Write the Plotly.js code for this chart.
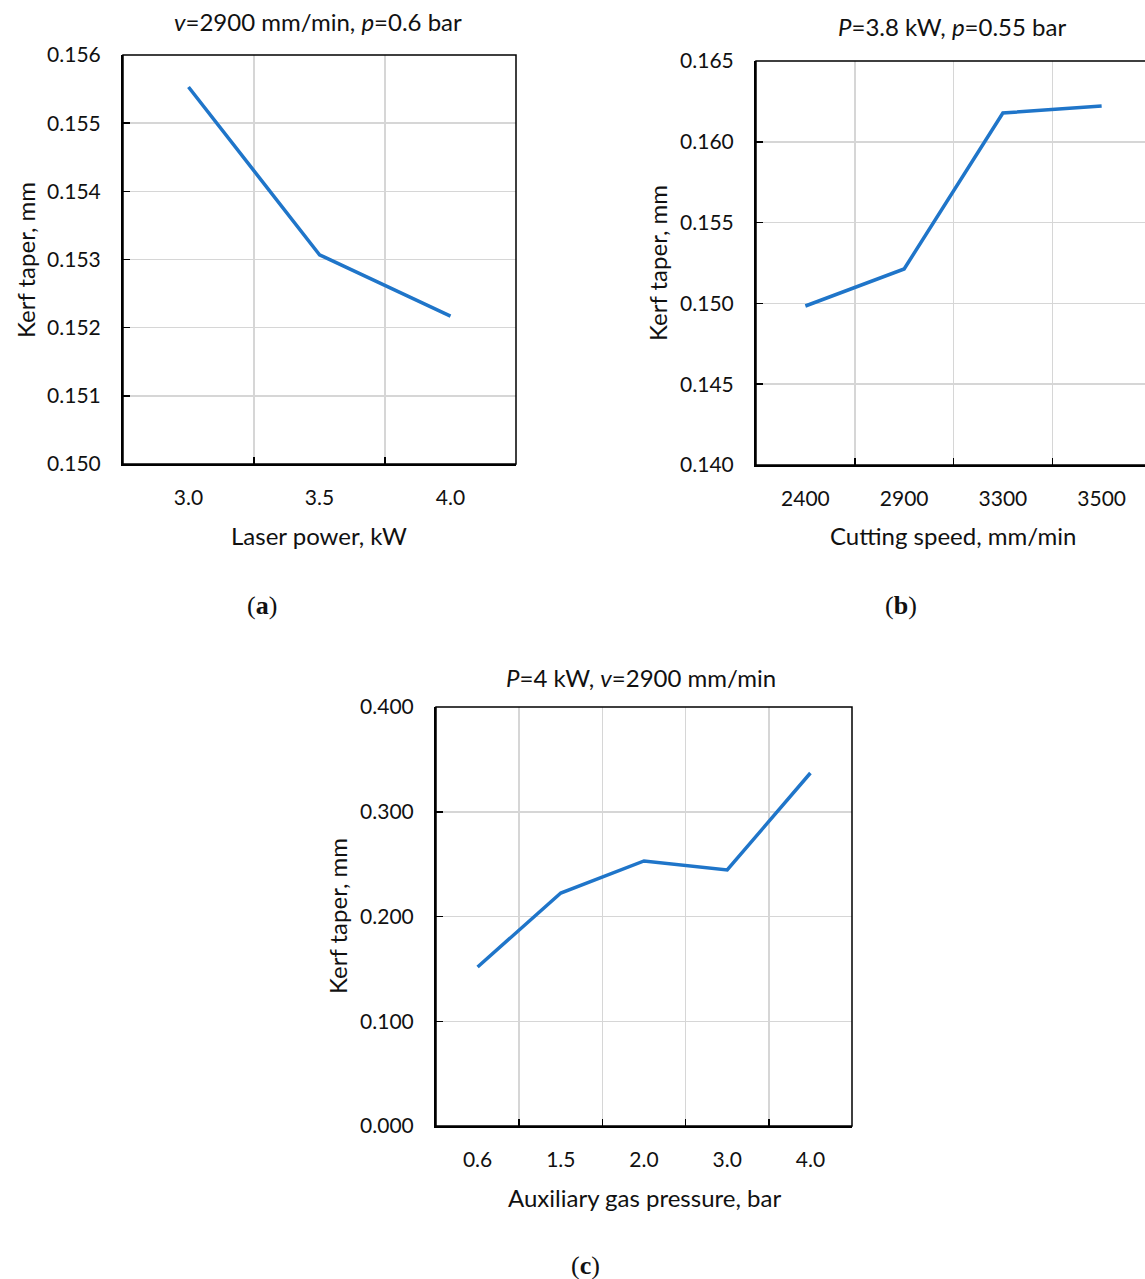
<!DOCTYPE html>
<html>
<head>
<meta charset="utf-8">
<script src="https://cdn.plot.ly/plotly-3.0.1.min.js"></script>
<style>
  html, body { margin: 0; padding: 0; background: #fff; overflow: hidden; }
  #chart { width: 1160px; height: 1279px; }
</style>
</head>
<body>
<div id="chart"></div>
<script>
// Kerf taper versus each cutting parameter
const powerLabels = ['3.0', '3.5', '4.0'];
const taperVsPower = [0.15553, 0.15307, 0.15217];

const speedLabels = ['2400', '2900', '3300', '3500'];
const taperVsSpeed = [0.14984, 0.15213, 0.16178, 0.16222];

const pressureLabels = ['0.6', '1.5', '2.0', '3.0', '4.0'];
const taperVsPressure = [0.1518, 0.2224, 0.2530, 0.2444, 0.3370];

const W = 1160, H = 1279;
const FONT = 'Lato, "Open Sans", sans-serif';
const LINE_COLOR = 'rgb(31,117,201)';
const TITLE_SIZE = 24;

// panel boxes in pixels
const boxes = {
  a: { x0: 123, x1: 516, y0: 55,  y1: 464 },
  b: { x0: 756, x1: 1151, y0: 61, y1: 465 },
  c: { x0: 436, x1: 852, y0: 707, y1: 1126 }
};
const xd = b => [b.x0 / W, b.x1 / W];
const yd = b => [1 - b.y1 / H, 1 - b.y0 / H];
const px = x => x / W;
const py = y => 1 - y / H;

function xAxis(box, n) {
  return {
    domain: xd(box), type: 'category', range: [-0.5, n - 0.5],
    tickson: 'boundaries', ticks: 'inside', ticklen: 7, tickwidth: 1.5, tickcolor: '#000',
    showgrid: true, gridcolor: '#d6d6d6', gridwidth: 1.5,
    showline: true, linecolor: '#000', linewidth: 2,
    tickfont: { family: FONT, size: 21, color: '#111' },
    ticklabelstandoff: 14, fixedrange: true, zeroline: false
  };
}
function yAxis(box, range, dtick, anchor) {
  return {
    domain: yd(box), range: range, dtick: dtick, tick0: 0, tickformat: '.3f',
    ticks: 'inside', ticklen: 7, tickwidth: 1.5, tickcolor: '#000',
    showgrid: true, gridcolor: '#d6d6d6', gridwidth: 1.5,
    showline: true, linecolor: '#000', linewidth: 2, zeroline: false,
    tickfont: { family: FONT, size: 21, color: '#111' },
    ticklabelstandoff: 16, fixedrange: true, anchor: anchor
  };
}

const lineStyle = { color: LINE_COLOR, width: 3.5 };
const traces = [
  { x: powerLabels, y: taperVsPower, xaxis: 'x', yaxis: 'y', mode: 'lines', line: lineStyle },
  { x: speedLabels, y: taperVsSpeed, xaxis: 'x2', yaxis: 'y2', mode: 'lines', line: lineStyle },
  { x: pressureLabels, y: taperVsPressure, xaxis: 'x3', yaxis: 'y3', mode: 'lines', line: lineStyle }
];

function txt(text, x, y, size, extra) {
  return Object.assign({
    text: text, xref: 'paper', yref: 'paper', x: px(x), y: py(y),
    xanchor: 'center', yanchor: 'middle', showarrow: false,
    font: { family: FONT, size: size, color: '#111' }
  }, extra || {});
}
const serif = { family: '"Liberation Serif", "DejaVu Serif", serif', size: 26, color: '#111' };

const annotations = [
  txt('<i>v</i>=2900 mm/min, <i>p</i>=0.6 bar', 318, 22, TITLE_SIZE),
  txt('<i>P</i>=3.8 kW, <i>p</i>=0.55 bar', 952, 27, TITLE_SIZE),
  txt('<i>P</i>=4 kW, <i>v</i>=2900 mm/min', 641, 677, TITLE_SIZE),
  txt('Laser power, kW', 319, 535, TITLE_SIZE),
  txt('Cutting speed, mm/min', 953, 536, TITLE_SIZE),
  txt('Auxiliary gas pressure, bar', 644, 1197, TITLE_SIZE),
  txt('Kerf taper, mm', 25, 260, TITLE_SIZE, { textangle: -90 }),
  txt('Kerf taper, mm', 657, 263, TITLE_SIZE, { textangle: -90 }),
  txt('Kerf taper, mm', 337, 916, TITLE_SIZE, { textangle: -90 }),
  txt('(<b>a</b>)', 262, 605, 26, { font: serif }),
  txt('(<b>b</b>)', 901, 605, 26, { font: serif }),
  txt('(<b>c</b>)', 585, 1265, 26, { font: serif })
];

const frame = (xr, yr) => ({
  type: 'rect', xref: xr + ' domain', yref: yr + ' domain', x0: 0, x1: 1, y0: 0, y1: 1,
  line: { color: '#000', width: 1.5 }, layer: 'above'
});

const layout = {
  width: W, height: H, margin: { l: 0, r: 0, t: 0, b: 0 },
  paper_bgcolor: '#fff', plot_bgcolor: '#fff', showlegend: false,
  xaxis: xAxis(boxes.a, powerLabels.length),
  yaxis: yAxis(boxes.a, [0.150, 0.156], 0.001, 'x'),
  xaxis2: Object.assign(xAxis(boxes.b, speedLabels.length), { anchor: 'y2' }),
  yaxis2: yAxis(boxes.b, [0.140, 0.165], 0.005, 'x2'),
  xaxis3: Object.assign(xAxis(boxes.c, pressureLabels.length), { anchor: 'y3' }),
  yaxis3: yAxis(boxes.c, [0, 0.4], 0.1, 'x3'),
  shapes: [frame('x', 'y'), frame('x2', 'y2'), frame('x3', 'y3')],
  annotations: annotations
};

Plotly.newPlot('chart', traces, layout, { staticPlot: true, displayModeBar: false });
</script>
</body>
</html>
